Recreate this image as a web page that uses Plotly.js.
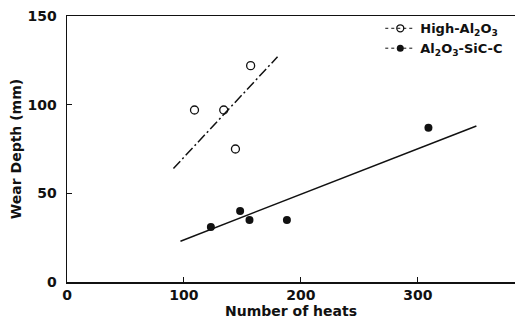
<!DOCTYPE html>
<html><head><meta charset="utf-8">
<script src="https://cdn.plot.ly/plotly-3.0.1.min.js"></script>
<style>html,body{margin:0;padding:0;background:#fff}</style>
</head><body><div id="chart" style="width:515px;height:325px"></div>
<script>
const highX = [109, 134, 144, 157];
const highY = [97, 97, 75, 122];
const sicX = [123, 148, 156, 188, 309];
const sicY = [31, 40, 35, 35, 87];
const highFitX = [91, 180];
const highFitY = [64, 127];
const sicFitX = [97, 350];
const sicFitY = [23, 88];
const xTicks = [0, 100, 200, 300];
const yTicks = [0, 50, 100, 150];
const seriesNames = ['High-Al<sub>2</sub>O<sub>3</sub>', 'Al<sub>2</sub>O<sub>3</sub>-SiC-C'];

const fnt = {family: 'DejaVu Sans', size: 14, color: '#111', weight: 'bold'};
const data = [
  {x: highFitX, y: highFitY, mode: 'lines', line: {color: '#111', width: 1.5, dash: '10px,3px,2px,3px'}, showlegend: false, hoverinfo: 'skip'},
  {x: sicFitX, y: sicFitY, mode: 'lines', line: {color: '#111', width: 1.5}, showlegend: false, hoverinfo: 'skip'},
  {x: highX, y: highY, mode: 'markers', name: seriesNames[0], showlegend: false,
   marker: {symbol: 'circle-open', size: 8, color: '#111', line: {width: 1.3, color: '#111'}}},
  {x: sicX, y: sicY, mode: 'markers', name: seriesNames[1], showlegend: false,
   marker: {symbol: 'circle', size: 8, color: '#111'}},
  {x: [null], y: [null], mode: 'lines+markers', name: seriesNames[0],
   line: {color: '#111', width: 1, dash: 'dot'},
   marker: {symbol: 'circle-open', size: 7, color: '#111', line: {width: 1.3, color: '#111'}}},
  {x: [null], y: [null], mode: 'lines+markers', name: seriesNames[1],
   line: {color: '#111', width: 1, dash: 'dot'},
   marker: {symbol: 'circle', size: 7, color: '#111'}}
];
const layout = {
  width: 515, height: 325,
  margin: {l: 67, r: 0, t: 16, b: 43},
  paper_bgcolor: '#fff', plot_bgcolor: '#fff',
  font: fnt,
  showlegend: true,
  legend: {x: 0.985, y: 1.01, xanchor: 'right', yanchor: 'top', bgcolor: 'rgba(0,0,0,0)',
    font: {family: 'DejaVu Sans', size: 13, color: '#111', weight: 'bold'}, tracegroupgap: 0, itemwidth: 30},
  xaxis: {range: [0, 383], tickvals: xTicks, ticktext: xTicks.map(String), ticks: 'inside', ticklen: 5, tickcolor: '#111',
    showline: true, mirror: true, linecolor: '#111', linewidth: 1.5, showgrid: false, zeroline: false,
    tickfont: fnt,
    title: {text: 'Number of heats', font: fnt, standoff: 4}},
  yaxis: {range: [0, 150], tickvals: yTicks, ticktext: yTicks.map(String), ticks: 'inside', ticklen: 5, tickcolor: '#111',
    showline: true, mirror: true, linecolor: '#111', linewidth: 1.5, showgrid: false, zeroline: false,
    tickfont: fnt, ticklabelstandoff: 6,
    title: {text: 'Wear Depth (mm)', font: fnt, standoff: 2}}
};
Plotly.newPlot('chart', data, layout, {displayModeBar: false, staticPlot: true});
</script></body></html>
